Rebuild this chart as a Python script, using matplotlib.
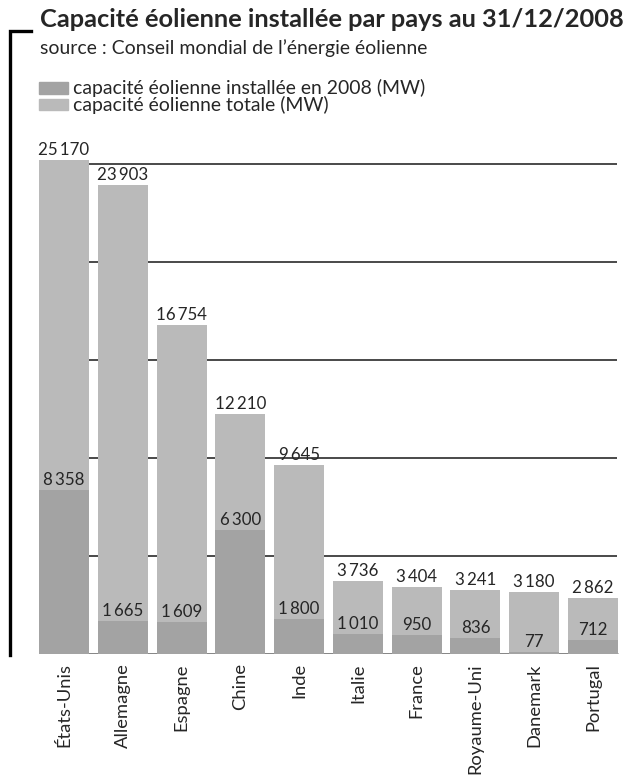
import matplotlib
matplotlib.use("Agg")
import matplotlib.pyplot as plt
from matplotlib.lines import Line2D
from matplotlib.patches import Rectangle

plt.rcParams['font.family'] = ['Lato', 'DejaVu Sans']

# Données : capacité éolienne par pays au 31/12/2008 (MW)
pays = ["États-Unis", "Allemagne", "Espagne", "Chine", "Inde",
        "Italie", "France", "Royaume-Uni", "Danemark", "Portugal"]
capacite_totale = [25170, 23903, 16754, 12210, 9645, 3736, 3404, 3241, 3180, 2862]
capacite_2008 = [8358, 1665, 1609, 6300, 1800, 1010, 950, 836, 77, 712]
graduations = [5000, 10000, 15000, 20000, 25000]

titre = "Capacité éolienne installée par pays au 31/12/2008"
sous_titre = "source : Conseil mondial de l’énergie éolienne"
legende_2008 = "capacité éolienne installée en 2008 (MW)"
legende_totale = "capacité éolienne totale (MW)"

COUL_TOTALE = "#bababa"
COUL_2008 = "#a3a3a3"
COUL_TEXTE = "#262626"
COUL_GRILLE = "#3a3a3a"

W, H = 630, 778
fig = plt.figure(figsize=(W / 100, H / 100), dpi=100)
fig.patch.set_facecolor("white")
renderer = fig.canvas.get_renderer()


def fx(px):
    return px / W


def fy(py):
    return 1 - py / H


def fmt(v):
    return f"{v:,}".replace(",", "\u2009")


def taille_pour_largeur(texte, largeur_px, **kw):
    """Corps de police (pt) donnant à `texte` la largeur voulue en pixels."""
    t = fig.text(0, 0, texte, fontsize=20, **kw)
    w = t.get_window_extent(renderer).width
    t.remove()
    return 20 * largeur_px / w


fs_titre = taille_pour_largeur(titre, 583, fontweight="bold")
fs_sous = taille_pour_largeur(sous_titre, 389)
fs_leg = taille_pour_largeur(legende_2008, 353)
fs_val = taille_pour_largeur(fmt(25170), 51)
fs_pays = taille_pour_largeur(pays[0], 84)

# zone du graphique (pixels : gauche 35, droite 622, haut 144, base 654)
ax = fig.add_axes([fx(34.6), fy(654), fx(622.4) - fx(34.6), fy(144) - fy(654)])
ax.set_xlim(-0.5, len(pays) - 0.5)
ax.set_ylim(0, 26000)
for s in ax.spines.values():
    s.set_visible(False)
ax.set_yticks([])
ax.set_xticks([])

largeur = 0.85
x = list(range(len(pays)))
ax.hlines(graduations, -largeur / 2, len(pays) - 1 + 0.4, color=COUL_GRILLE,
          lw=1.3, zorder=0)
ax.hlines(0, -largeur / 2, len(pays) - 1 + largeur / 2, color="#7a7a7a",
          lw=2.0, zorder=1)

ax.bar(x, capacite_totale, width=largeur, color=COUL_TOTALE, zorder=2)
ax.bar(x, capacite_2008, width=largeur, color=COUL_2008, zorder=3)

for xi, tot, an in zip(x, capacite_totale, capacite_2008):
    ax.annotate(fmt(tot), (xi, tot), xytext=(0, 1.5), textcoords="offset points",
                ha="center", va="bottom", fontsize=fs_val, color=COUL_TEXTE, zorder=4)
    ax.annotate(fmt(an), (xi, an), xytext=(0, 1.5), textcoords="offset points",
                ha="center", va="bottom", fontsize=fs_val, color=COUL_TEXTE, zorder=4)
    ax.annotate(pays[xi], (xi, 0), xytext=(0, -6.5), textcoords="offset points",
                ha="center", va="top", rotation=90, fontsize=fs_pays, color=COUL_TEXTE,
                annotation_clip=False)

# axe vertical noir à gauche, avec son crochet en haut
fig.add_artist(Line2D([fx(10), fx(10), fx(31)], [fy(655), fy(31), fy(31)],
                      color="black", lw=2.4, solid_joinstyle="miter"))

# titres
fig.text(fx(40), fy(27), titre, fontsize=fs_titre, fontweight="bold",
         color=COUL_TEXTE, ha="left", va="baseline")
fig.text(fx(40), fy(54), sous_titre, fontsize=fs_sous, color=COUL_TEXTE,
         ha="left", va="baseline")

# légende
for (y0, y1), coul, lab, base in [((82, 94), COUL_2008, legende_2008, 94),
                                  ((99, 110), COUL_TOTALE, legende_totale, 111)]:
    fig.add_artist(Rectangle((fx(39), fy(y1)), fx(68) - fx(39), fy(y0) - fy(y1),
                             color=coul, transform=fig.transFigure))
    fig.text(fx(73), fy(base), lab, fontsize=fs_leg, color=COUL_TEXTE,
             ha="left", va="baseline")

fig.savefig("out.png", dpi=100, facecolor="white")
